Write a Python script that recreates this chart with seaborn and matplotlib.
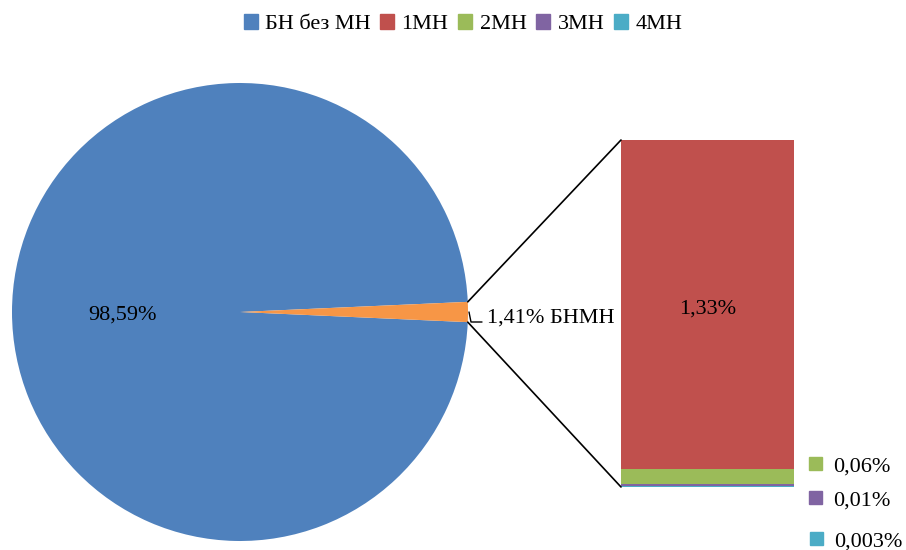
import matplotlib
matplotlib.use("Agg")
import matplotlib.pyplot as plt
from matplotlib.patches import ConnectionPatch, Patch, Rectangle
import seaborn as sns
import numpy as np

# Data
pie_labels = ["БН без МН", "БНМН"]
pie_values = [98.59, 1.41]
bar_labels = ["1МН", "2МН", "3МН", "4МН"]
bar_values = [1.33, 0.06, 0.01, 0.003]
bar_texts = ["1,33%", "0,06%", "0,01%", "0,003%"]
pie_texts = ["98,59%", "1,41% БНМН"]

blue, orange = "#4F81BD", "#F79646"
bar_colors = ["#C0504D", "#9BBB59", "#8064A2", "#4BACC6"]

sns.set_theme(style="white")
plt.rcParams["font.family"] = ["Liberation Serif", "DejaVu Serif"]
plt.rcParams["text.color"] = "black"
FS = 16

W, H = 906, 550
fig = plt.figure(figsize=(W / 100, H / 100), dpi=100)


def px_axes(x0, y0, x1, y1):
    return fig.add_axes([x0 / W, 1 - y1 / H, (x1 - x0) / W, (y1 - y0) / H])


# Pie with the split-off slice centred on the right
ax_pie = px_axes(12, 83, 468, 541)
half = pie_values[1] * 3.6 / 2
ax_pie.pie(pie_values, colors=[blue, orange], startangle=half,
           counterclock=True, radius=1, wedgeprops=dict(linewidth=0))
ax_pie.set_xlim(-1, 1)
ax_pie.set_ylim(-1, 1)
ax_pie.set_aspect("equal", adjustable="datalim")
ax_pie.axis("off")
ax_pie.text(-0.515, -0.015, pie_texts[0], ha="center", va="center",
            fontsize=FS, color="black")

# Stacked bar of the split-off slice (smallest part at the bottom)
ax_bar = px_axes(621, 140, 794, 487)
bottom = 0.0
b_of = {}
for i in reversed(range(len(bar_values))):
    sns.barplot(x=[0], y=[bar_values[i]], bottom=bottom, color=bar_colors[i],
                width=1.0, saturation=1, linewidth=0, ax=ax_bar)
    b_of[i] = bottom
    bottom += bar_values[i]
total = bottom
ax_bar.set_xlim(-0.5, 0.5)
ax_bar.set_ylim(0, total)
ax_bar.axis("off")

ax_bar.text(0, b_of[0] + bar_values[0] * 0.485, bar_texts[0], ha="center",
            va="center", fontsize=FS, color="black")

# Small segment labels with colour keys
key_pos = [(816, 463), (816, 497), (817, 538)]
for (kx, ky), i in zip(key_pos, [1, 2, 3]):
    fig.patches.append(Rectangle(((kx - 7) / W, 1 - (ky + 6.5) / H), 13 / W, 13 / H,
                                 transform=fig.transFigure, color=bar_colors[i]))
    fig.text((kx + 17) / W, 1 - (ky + 4) / H, bar_texts[i], ha="left",
             va="center", fontsize=FS, color="black")

# Connector lines from the slice edge to the bar corners
ang = np.deg2rad(half)
for sgn, yb in [(1, total), (-1, 0)]:
    con = ConnectionPatch(xyA=(np.cos(ang), sgn * np.sin(ang)), coordsA=ax_pie.transData,
                          xyB=(-0.5, yb), coordsB=ax_bar.transData,
                          color="black", linewidth=1.2)
    fig.add_artist(con)

# Label for the split slice with its short leader
fig.add_artist(plt.Line2D([469 / W, 471 / W, 482 / W],
                          [1 - 312 / H, 1 - 322 / H, 1 - 322 / H],
                          color="black", linewidth=1, transform=fig.transFigure))
fig.text(487 / W, 1 - 318 / H, pie_texts[1], ha="left", va="center",
         fontsize=FS, color="black")

# Legend
handles = [Patch(color=blue)] + [Patch(color=c) for c in bar_colors]
fig.legend(handles, [pie_labels[0]] + bar_labels, loc="center",
           bbox_to_anchor=(463 / W, 1 - 24 / H), ncol=5, frameon=False,
           fontsize=FS, handlelength=0.63, handleheight=0.63, handletextpad=0.32,
           columnspacing=0.45, labelcolor="black")

fig.savefig("out.png", dpi=100)
